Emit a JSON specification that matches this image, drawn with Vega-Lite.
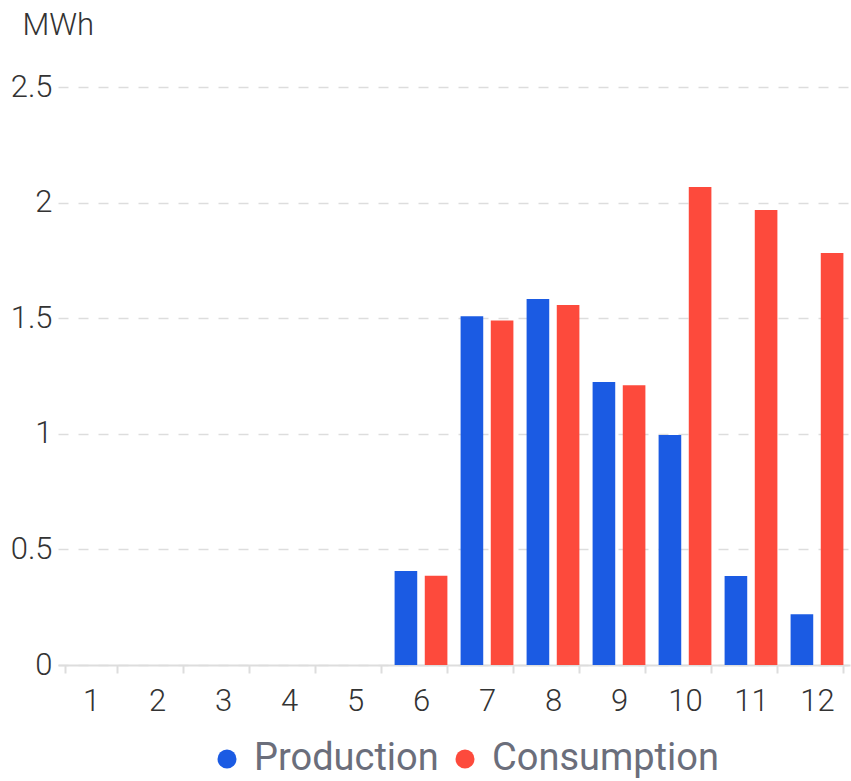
{
  "$schema": "https://vega.github.io/schema/vega-lite/v6.json",
  "width": 792,
  "height": 578,
  "autosize": "none",
  "padding": {"left": 58, "top": 87, "right": 1, "bottom": 116},
  "background": "white",
  "config": {
    "font": "Roboto",
    "view": {"stroke": null}
  },
  "data": {
    "values": [
      {"month": 1, "series": "Production", "value": 0},
      {"month": 1, "series": "Consumption", "value": 0},
      {"month": 2, "series": "Production", "value": 0},
      {"month": 2, "series": "Consumption", "value": 0},
      {"month": 3, "series": "Production", "value": 0},
      {"month": 3, "series": "Consumption", "value": 0},
      {"month": 4, "series": "Production", "value": 0},
      {"month": 4, "series": "Consumption", "value": 0},
      {"month": 5, "series": "Production", "value": 0},
      {"month": 5, "series": "Consumption", "value": 0},
      {"month": 6, "series": "Production", "value": 0.407},
      {"month": 6, "series": "Consumption", "value": 0.386},
      {"month": 7, "series": "Production", "value": 1.508},
      {"month": 7, "series": "Consumption", "value": 1.49},
      {"month": 8, "series": "Production", "value": 1.583},
      {"month": 8, "series": "Consumption", "value": 1.557},
      {"month": 9, "series": "Production", "value": 1.224},
      {"month": 9, "series": "Consumption", "value": 1.21},
      {"month": 10, "series": "Production", "value": 0.995},
      {"month": 10, "series": "Consumption", "value": 2.067},
      {"month": 11, "series": "Production", "value": 0.385},
      {"month": 11, "series": "Consumption", "value": 1.968},
      {"month": 12, "series": "Production", "value": 0.22},
      {"month": 12, "series": "Consumption", "value": 1.782}
    ]
  },
  "mark": {"type": "bar"},
  "encoding": {
    "x": {
      "field": "month",
      "type": "ordinal",
      "scale": {"paddingInner": 0.2, "paddingOuter": 0.1},
      "axis": {
        "title": null,
        "labelAngle": 0,
        "labelFontSize": 31,
        "labelFontWeight": 300,
        "labelColor": "#333333",
        "labelPadding": 13,
        "domainColor": "#dddddd",
        "domainWidth": 2,
        "tickColor": "#dddddd",
        "tickWidth": 2,
        "tickSize": 8,
        "tickBand": "extent",
        "grid": false
      }
    },
    "xOffset": {
      "field": "series",
      "type": "nominal",
      "sort": ["Production", "Consumption"],
      "scale": {"paddingInner": 0.25}
    },
    "y": {
      "field": "value",
      "type": "quantitative",
      "scale": {"domain": [0, 2.5], "nice": false},
      "axis": {
        "values": [0, 0.5, 1, 1.5, 2, 2.5],
        "format": "~g",
        "title": "MWh",
        "titleAngle": 0,
        "titleAlign": "left",
        "titleBaseline": "middle",
        "titleX": -36,
        "titleY": -62,
        "titleFontSize": 31,
        "titleFontWeight": 300,
        "titleColor": "#333333",
        "labelFontSize": 31,
        "labelFontWeight": 300,
        "labelColor": "#333333",
        "labelPadding": 6,
        "domain": false,
        "ticks": false,
        "grid": true,
        "gridColor": "#dddddd",
        "gridDash": [10, 10],
        "gridWidth": 1.5
      }
    },
    "color": {
      "field": "series",
      "type": "nominal",
      "sort": ["Production", "Consumption"],
      "scale": {"domain": ["Production", "Consumption"], "range": ["#1b5be3", "#fd4a3c"]},
      "legend": {
        "title": null,
        "orient": "none",
        "direction": "horizontal",
        "legendX": 150,
        "legendY": 653,
        "symbolType": "circle",
        "symbolSize": 360,
        "symbolStrokeWidth": 0,
        "labelFontSize": 38,
        "labelLimit": 400,
        "labelColor": "#6b6e7b",
        "labelOffset": 8,
        "columnPadding": 7
      }
    }
  }
}
